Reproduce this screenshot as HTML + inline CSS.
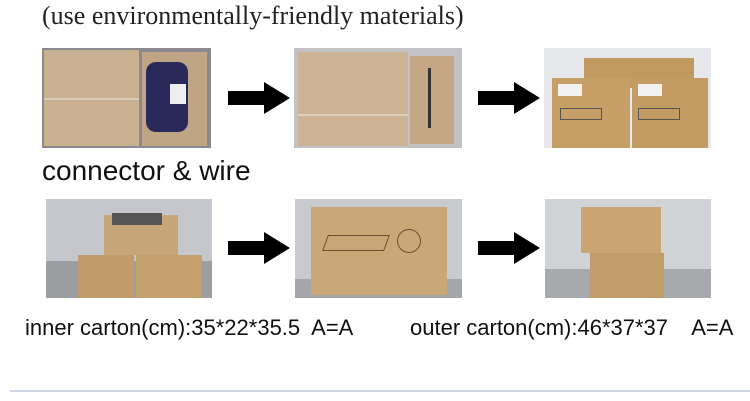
<!DOCTYPE html>
<html><head><meta charset="utf-8"><style>
body{margin:0;width:750px;height:401px;background:#fff;position:relative;overflow:hidden;font-family:"Liberation Sans",sans-serif}
.a{position:absolute}
.ph{position:absolute;overflow:hidden}
.arr{position:absolute;width:62px;height:32px}
</style></head><body>
<div class="a" style="left:42px;top:1px;font-family:'Liberation Serif',serif;font-size:26px;color:#222">(use environmentally-friendly materials)</div>

<!-- row1 photo1 -->
<div class="ph" style="left:42px;top:48px;width:169px;height:100px;background:#8a8a8e">
<div class="a" style="left:2px;top:2px;width:95px;height:96px;background:#c9b091"></div>
<div class="a" style="left:2px;top:50px;width:95px;height:2px;background:#d8cbb8"></div>
<div class="a" style="left:100px;top:4px;width:65px;height:94px;background:#bfa584"></div>
<div class="a" style="left:104px;top:14px;width:42px;height:70px;background:#2a2a5a;border-radius:10px"></div>
<div class="a" style="left:128px;top:36px;width:16px;height:20px;background:#eee"></div>
</div>
<!-- row1 photo2 -->
<div class="ph" style="left:294px;top:48px;width:168px;height:100px;background:#c2c2c5">
<div class="a" style="left:4px;top:4px;width:110px;height:94px;background:#cdb496"></div>
<div class="a" style="left:4px;top:66px;width:110px;height:2px;background:#ddd0bd"></div>
<div class="a" style="left:116px;top:8px;width:44px;height:88px;background:#c4a886"></div>
<div class="a" style="left:134px;top:20px;width:3px;height:60px;background:#333"></div>
</div>
<!-- row1 photo3 -->
<div class="ph" style="left:544px;top:48px;width:167px;height:100px;background:#e6e8ec">
<div class="a" style="left:40px;top:10px;width:110px;height:30px;background:#c19a62"></div>
<div class="a" style="left:8px;top:30px;width:78px;height:70px;background:#c59f66"></div>
<div class="a" style="left:88px;top:30px;width:76px;height:70px;background:#c29c63"></div>
<div class="a" style="left:14px;top:36px;width:24px;height:12px;background:#f2f2f2"></div>
<div class="a" style="left:94px;top:36px;width:24px;height:12px;background:#f2f2f2"></div>
<div class="a" style="left:16px;top:60px;width:40px;height:10px;border:1px solid #555"></div>
<div class="a" style="left:94px;top:60px;width:40px;height:10px;border:1px solid #555"></div>
</div>

<!-- row2 photo1 -->
<div class="ph" style="left:46px;top:199px;width:166px;height:99px;background:#c6c7cc">
<div class="a" style="left:0;top:62px;width:166px;height:37px;background:#9c9ea2"></div>
<div class="a" style="left:58px;top:16px;width:74px;height:40px;background:#c7a77a"></div>
<div class="a" style="left:66px;top:14px;width:50px;height:12px;background:#555"></div>
<div class="a" style="left:32px;top:56px;width:56px;height:43px;background:#c19c6a"></div>
<div class="a" style="left:90px;top:56px;width:66px;height:43px;background:#c5a16e"></div>
</div>
<!-- row2 photo2 -->
<div class="ph" style="left:295px;top:199px;width:167px;height:99px;background:#c9cacd">
<div class="a" style="left:0;top:80px;width:167px;height:19px;background:#a5a6aa"></div>
<div class="a" style="left:16px;top:8px;width:136px;height:88px;background:#c9a776"></div>
<div class="a" style="left:30px;top:36px;width:60px;height:14px;border:1px solid #6b5030;transform:skewX(-20deg)"></div>
<div class="a" style="left:102px;top:30px;width:22px;height:22px;border:1px solid #6b5030;border-radius:50%"></div>
</div>
<!-- row2 photo3 -->
<div class="ph" style="left:545px;top:199px;width:166px;height:99px;background:#d2d3d6">
<div class="a" style="left:0;top:70px;width:166px;height:29px;background:#a8a9ad"></div>
<div class="a" style="left:36px;top:8px;width:80px;height:46px;background:#c9a674"></div>
<div class="a" style="left:45px;top:54px;width:74px;height:45px;background:#c29d69"></div>
</div>

<svg class="arr" style="left:228px;top:82px" viewBox="0 0 62 32"><polygon points="0,9 36,9 36,0 62,16 36,32 36,23 0,23" fill="#000"/></svg>
<svg class="arr" style="left:478px;top:82px" viewBox="0 0 62 32"><polygon points="0,9 36,9 36,0 62,16 36,32 36,23 0,23" fill="#000"/></svg>
<svg class="arr" style="left:228px;top:232px" viewBox="0 0 62 32"><polygon points="0,9 36,9 36,0 62,16 36,32 36,23 0,23" fill="#000"/></svg>
<svg class="arr" style="left:478px;top:232px" viewBox="0 0 62 32"><polygon points="0,9 36,9 36,0 62,16 36,32 36,23 0,23" fill="#000"/></svg>

<div class="a" style="left:42px;top:155px;font-size:28px;color:#111">connector &amp; wire</div>
<div class="a" style="left:25px;top:315px;font-size:22px;color:#111;white-space:pre">inner carton(cm):35*22*35.5  A=A</div>
<div class="a" style="left:410px;top:315px;font-size:22px;color:#111;white-space:pre">outer carton(cm):46*37*37    A=A</div>
<div class="a" style="left:10px;top:390px;width:740px;height:2px;background:#cdd6e2"></div>
</body></html>
